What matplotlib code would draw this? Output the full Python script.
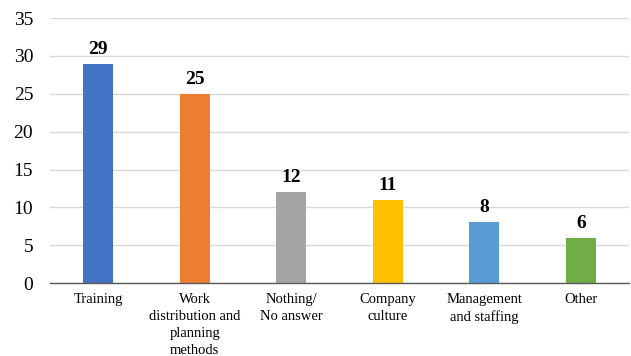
import matplotlib
matplotlib.use("Agg")
import matplotlib.pyplot as plt

categories = ["Training", "Work\ndistribution and\nplanning\nmethods", "Nothing/\nNo answer",
              "Company\nculture", "Management\nand staffing", "Other"]
values = [29, 25, 12, 11, 8, 6]
colors = ["#4472C4", "#ED7D31", "#A5A5A5", "#FFC000", "#5B9BD5", "#70AD47"]
yticks = [0, 5, 10, 15, 20, 25, 30, 35]

plt.rcParams["font.family"] = ["Liberation Serif", "DejaVu Serif"]

fig = plt.figure(figsize=(6.31, 3.56), dpi=100)
ax = fig.add_axes([0.079, 0.205, 0.918, 0.744])

x = list(range(len(categories)))
ax.bar(x, values, width=0.31, color=colors, zorder=3)
for xi, v in zip(x, values):
    ax.text(xi, v + 0.8, str(v), ha="center", va="bottom", fontsize=14,
            fontweight="bold", zorder=4)

ax.set_xlim(-0.5, len(categories) - 0.5)
ax.set_ylim(0, 35)
ax.set_yticks(yticks)
ax.set_yticklabels([str(t) for t in yticks], fontsize=14)
ax.set_xticks(x)
ax.set_xticklabels(categories, fontsize=10.5, linespacing=1.4)
ax.tick_params(axis="both", length=0)
ax.tick_params(axis="y", pad=12)
ax.tick_params(axis="x", pad=7)

ax.grid(axis="y", color="#D9D9D9", linewidth=1, zorder=0)
for s in ["top", "right", "left"]:
    ax.spines[s].set_visible(False)
ax.spines["bottom"].set_color("#595959")
ax.spines["bottom"].set_linewidth(1)
ax.spines["bottom"].set_zorder(5)

fig.savefig("out.png", dpi=100)
